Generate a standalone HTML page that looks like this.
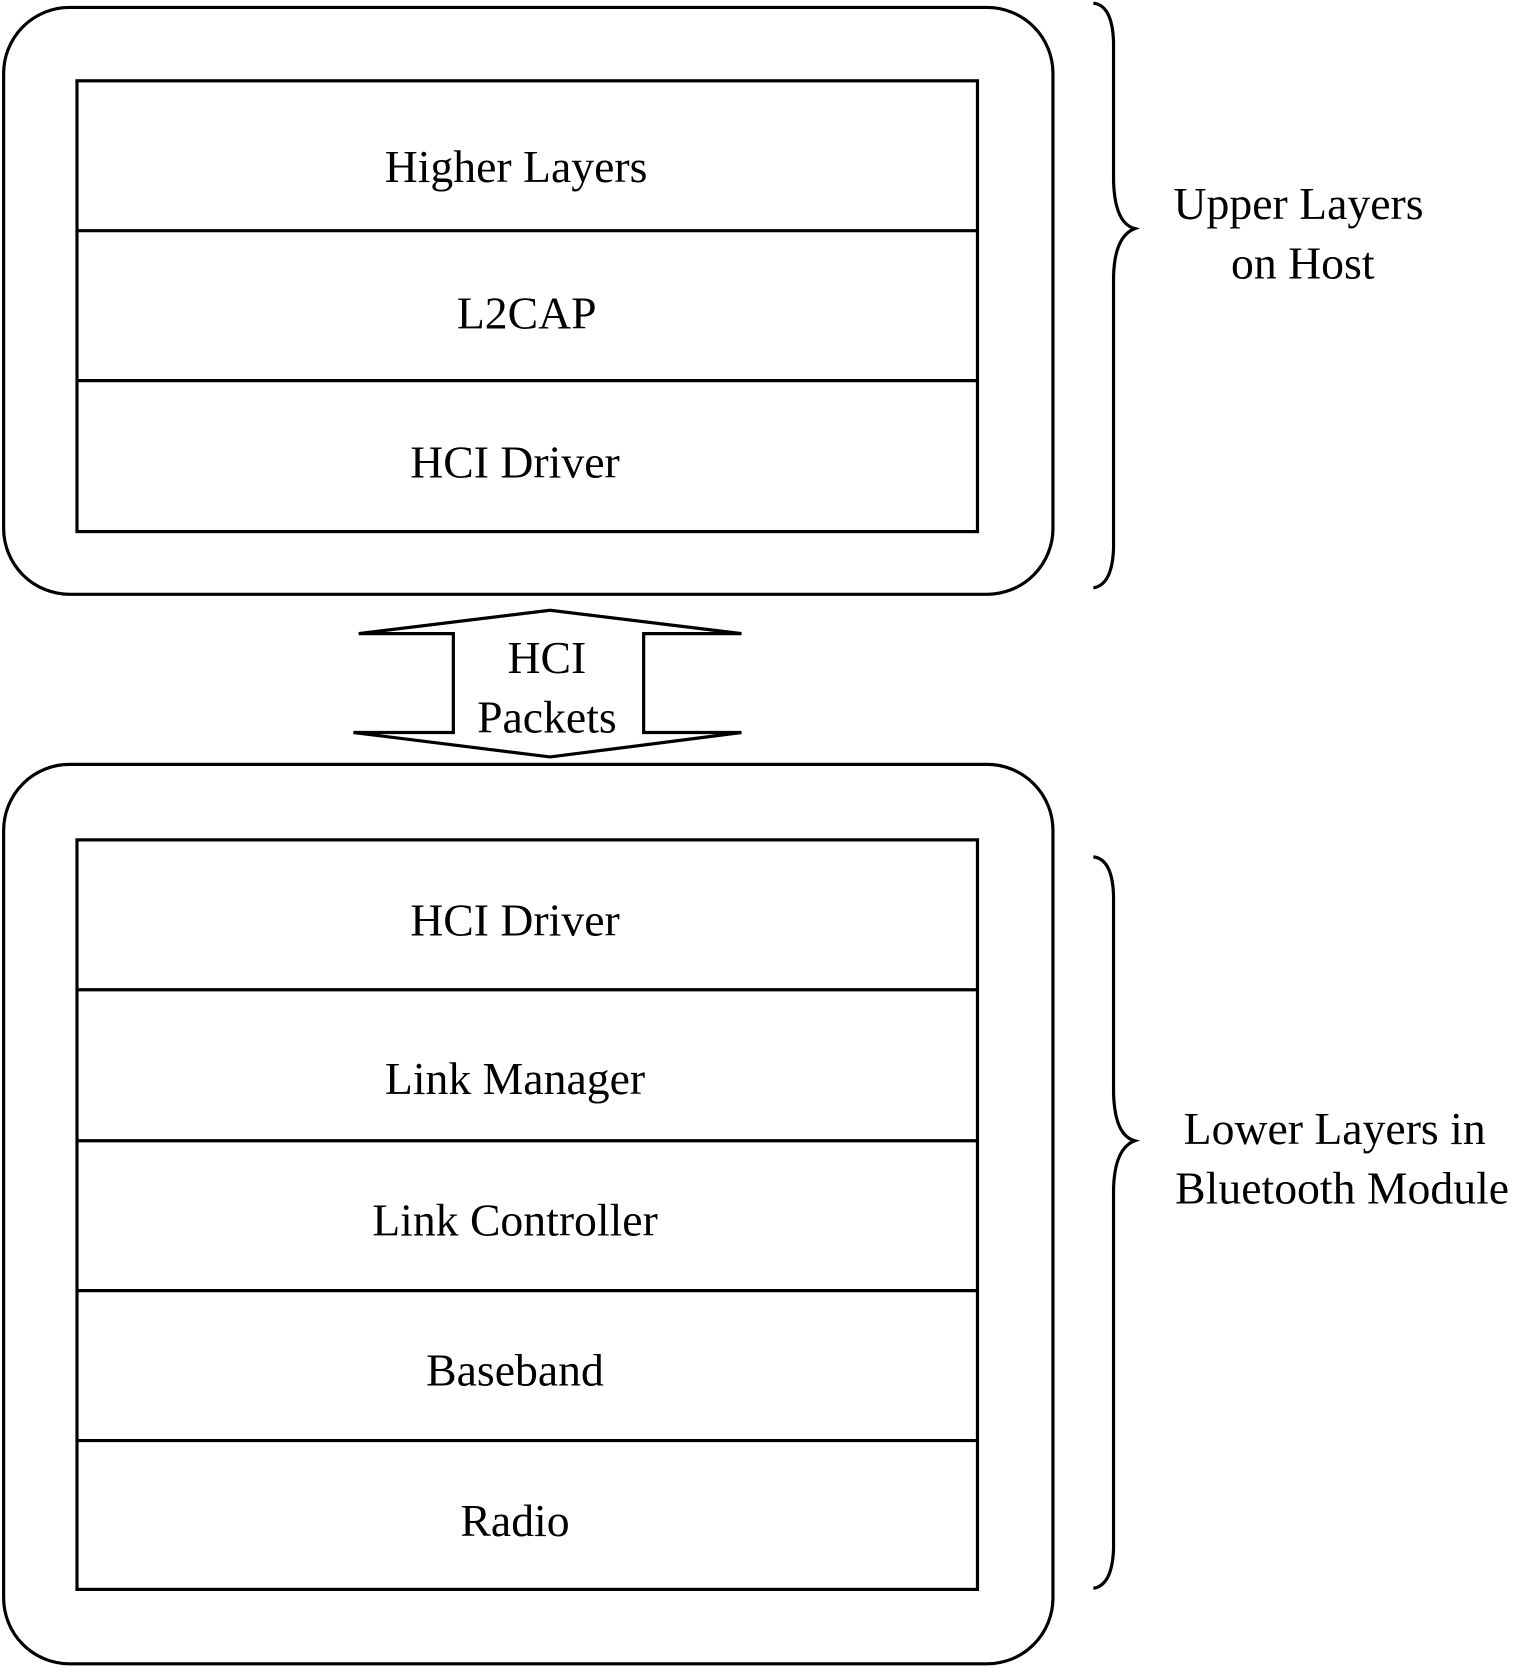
<!DOCTYPE html>
<html><head><meta charset="utf-8"><style>
html,body{margin:0;padding:0;background:#fff;}
svg{display:block;}
text{font-family:"Liberation Serif",serif;font-size:43px;fill:#000;text-anchor:middle;}
</style></head><body>
<svg width="1518" height="1667" viewBox="0 0 1427 1568" xmlns="http://www.w3.org/2000/svg">
<g fill="none" stroke="#000" stroke-width="3">
<rect x="3" y="7" width="987" height="552" rx="62" ry="62"/>
<rect x="72" y="76" width="847" height="424"/>
<line x1="72" y1="217" x2="919" y2="217"/>
<line x1="72" y1="358" x2="919" y2="358"/>
<rect x="3" y="719" width="987" height="846" rx="62" ry="62"/>
<rect x="72" y="790" width="847" height="705"/>
<line x1="72" y1="931" x2="919" y2="931"/>
<line x1="72" y1="1073" x2="919" y2="1073"/>
<line x1="72" y1="1214" x2="919" y2="1214"/>
<line x1="72" y1="1355" x2="919" y2="1355"/>
<polygon points="337,596 517,574 697,596 605,596 605,689 697,689 517,712 332,689 426,689 426,596"/>
<path d="M1028,3 Q1046,5 1047,40 L1047,170 Q1048,210 1067,215 Q1048,222 1047,260 L1047,515 Q1046,550 1028,553"/>
<path d="M1028,806 Q1046,808 1047,843 L1047,1028 Q1048,1068 1067,1073 Q1048,1080 1047,1118 L1047,1456 Q1046,1491 1028,1494"/>
</g>
<text x="485" y="171">Higher Layers</text>
<text x="495" y="309">L2CAP</text>
<text x="484" y="449">HCI Driver</text>
<text x="514" y="633">HCI</text>
<text x="514" y="689">Packets</text>
<text x="484" y="880">HCI Driver</text>
<text x="484" y="1029">Link Manager</text>
<text x="484" y="1162">Link Controller</text>
<text x="484" y="1303">Baseband</text>
<text x="484" y="1445">Radio</text>
<text x="1221" y="206">Upper Layers</text>
<text x="1225" y="262">on Host</text>
<text x="1255" y="1076">Lower Layers in</text>
<text x="1262" y="1132">Bluetooth Module</text>
</svg>
</body></html>
